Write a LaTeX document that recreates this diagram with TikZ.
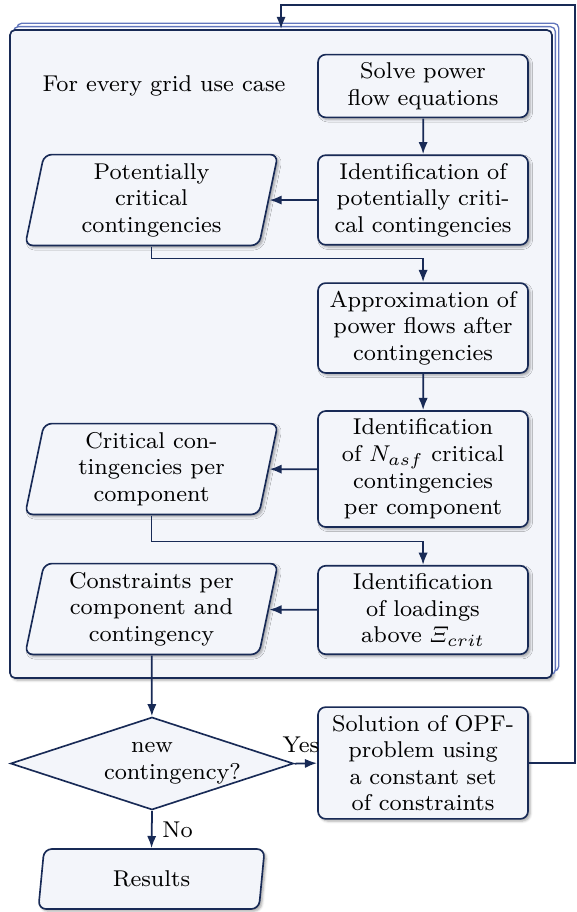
\documentclass[tikz,border=0pt]{standalone}
\usepackage{amsmath}
\usepackage{tikz}
\usetikzlibrary{positioning, shapes.geometric, arrows.meta, shadows, shadows.blur}

\definecolor{navy}{RGB}{24,42,86}
\definecolor{boxfill}{RGB}{243,245,250}
\definecolor{copyline}{RGB}{98,118,188}

\tikzstyle{arrow} = [line width=0.8pt,draw=navy,->,>={Latex[length=5.5pt,width=4.2pt]}]
\tikzstyle{softshadow} = [blur shadow={shadow xshift=1pt, shadow yshift=-1pt, shadow blur radius=1.1pt, shadow opacity=35}]
\tikzstyle{process} = [rectangle, rounded corners=3.5pt, draw=navy, line width=0.75pt, fill=boxfill, softshadow, text width=68pt, align=center, inner sep=2.75pt]
\tikzstyle{io} = [trapezium, trapezium left angle=77, trapezium right angle=103, trapezium stretches body, rounded corners=3.5pt, draw=navy, line width=0.75pt, fill=boxfill, softshadow, align=center, minimum width=88.5pt, minimum height=31.8pt, inner sep=1.5pt]
\tikzstyle{decision} = [diamond, aspect=3, draw=navy, line width=0.75pt, fill=boxfill, text width=33.6pt, align=center, inner sep=0pt, minimum width=99.1pt, minimum height=32.5pt]

\begin{document}
\begin{tikzpicture}[x=0.35pt, y=-0.35pt, scale=1.3, every node/.style={transform shape, font=\fontsize{8}{9.3}\selectfont}]
  \useasboundingbox (0,0) rectangle (577,912);

  % Frame for the grid use cases
  \node[rectangle, rounded corners=2.3pt, draw=navy, line width=0.75pt, fill=boxfill, softshadow,
        copy shadow={shadow xshift=3.1pt, shadow yshift=3.1pt, draw=copyline, fill=white, line width=0.6pt},
        copy shadow={shadow xshift=1.55pt, shadow yshift=1.55pt, draw=copyline, fill=white, line width=0.6pt},
        minimum width=189.7pt, minimum height=226.8pt] (frame) at (281,354) {};
  \node (usecase) at (164,86) {For every grid use case};

  % Right column
  \node[process] (solve) at (423,86) {Solve power\\flow equations};
  \node[process] (identpot) at (423,200) {Identification of\\potentially criti-\\cal contingencies};
  \node[process] (approx) at (423,328) {Approximation of\\power flows after\\contingencies};
  \node[process] (identnasf) at (423,469) {Identification\\of $N_{asf}$ critical\\contingencies\\per component};
  \node[process] (loadings) at (423,610) {Identification\\of loadings\\above $\varXi_{crit}$};

  % Left column
  \node[io] (potcrit) at (151.5,200) {Potentially\\critical\\contingencies};
  \node[io] (critcont) at (151.5,469) {Critical con-\\tingencies per\\component};
  \node[io] (constr) at (151.5,609) {Constraints per\\component and\\contingency};

  % Outside the frame
  \node[decision] (newcont) at (152,763.5) {new\\contingency?};
  \node[process] (opf) at (423,763) {Solution of OPF-\\problem using\\a constant set\\of constraints};
  \node[io, minimum width=79.2pt, minimum height=21pt] (results) at (151.5,879) {Results};
  \coordinate (loop) at (575,5);

  % Connectors
  \draw[arrow] (solve) -- (identpot);
  \draw[arrow] (identpot) -- (potcrit);
  \draw[arrow] (potcrit.south) -- ++(0,12) -| (approx.north);
  \draw[arrow] (approx) -- (identnasf);
  \draw[arrow] (identnasf) -- (critcont);
  \draw[arrow] (critcont.south) -- ++(0,26) -| (loadings.north);
  \draw[arrow] (loadings) -- (constr);
  \draw[arrow] (constr) -- (newcont);
  \draw[arrow] (newcont.east) -- node[above, pos=.28] (yes) {Yes} (opf.west);
  \draw[arrow] (newcont.south) -- node[right] (no) {No} (results.north);
  \draw[arrow] (opf.east) -| (loop) -| (frame.north);
\end{tikzpicture}
\end{document}
